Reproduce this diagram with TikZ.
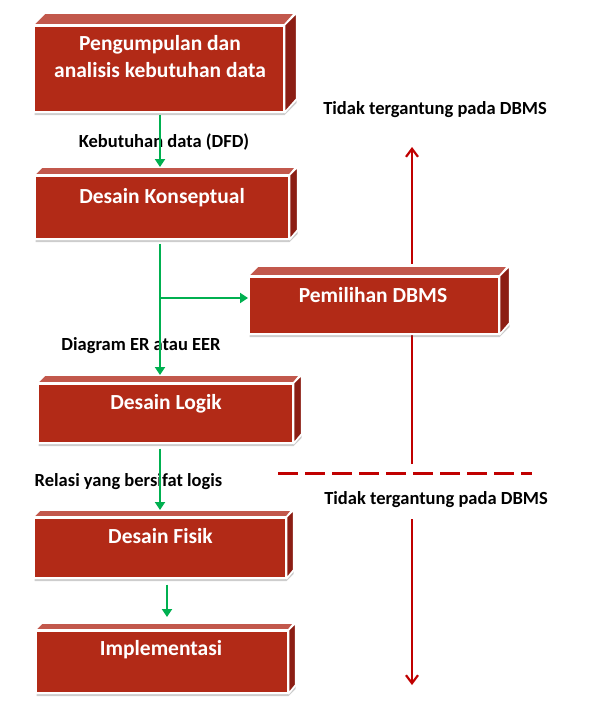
\documentclass[tikz,border=0pt]{standalone}
\usepackage{fontspec}
\setmainfont{Carlito}
\usetikzlibrary{arrows.meta,shadows}
\definecolor{frontred}{RGB}{178,42,23}
\definecolor{topred}{RGB}{194,88,76}
\definecolor{sidered}{RGB}{140,30,20}
\definecolor{flowgreen}{RGB}{0,176,80}
\definecolor{linered}{RGB}{192,0,0}
\tikzset{
  cubeback/.style={fill=white, draw=white, line width=4pt, line join=round,
    drop shadow={shadow xshift=1.5pt, shadow yshift=-4pt, opacity=.28, fill=black!70}},
  frontface/.style={fill=frontred, draw=white, line width=1.6pt, inner sep=0pt},
  topface/.style={fill=topred, draw=white, line width=1.6pt, line join=round},
  sideface/.style={fill=sidered, draw=white, line width=1.6pt, line join=round},
  boxtext/.style={text=white, font=\fontsize{21.5}{27}\selectfont\bfseries, align=center, inner sep=0pt},
  lbl/.style={text=black, font=\fontsize{18.5}{22}\selectfont\bfseries, inner sep=0pt, text height=11.9pt, text depth=0pt},
  garrow/.style={draw=flowgreen, line width=2.8pt, -{Triangle[length=8pt,width=10pt]}},
  rarrow/.style={draw=linered, line width=2.6pt, -{Straight Barb[length=8pt,width=12pt,line width=2.2pt]}},
  rdash/.style={draw=linered, line width=3pt, dash pattern=on 20pt off 7pt}
}
% #1 name, #2 x1, #3 y1, #4 x2, #5 y2, #6 depth
\newcommand\cubebox[6]{%
  \path[cubeback] (#2,#3) -- (#2+#6,#3-#6) -- (#4+#6,#3-#6) -- (#4+#6,#5-#6) -- (#4,#5) -- (#2,#5) -- cycle;
  \node[frontface, minimum width={#4-#2}, minimum height={#5-#3}, anchor=north west] (#1) at (#2,#3) {};
  \path[topface] (#1.north west) -- ++(#6,-#6) -- ++({#4-#2},0) -- (#1.north east) -- cycle;
  \path[sideface] (#1.north east) -- ++(#6,-#6) -- ++(0,{#5-#3}) -- (#1.south east) -- cycle;
  \coordinate (#1top) at ({(#2+#4)/2},{#3-#6});
}
\begin{document}
\begin{tikzpicture}[x=1pt,y=-1pt]
\useasboundingbox (0,0) rectangle (603,712);

% red lines (behind the boxes)
\coordinate (ru1) at (412,147);
\coordinate (rd1) at (412,464);
\coordinate (ru2) at (412,519);
\coordinate (rd2) at (412,685);
\coordinate (dl) at (278,473);
\coordinate (dr) at (532,473);
\draw[rarrow] (rd1) -- (ru1);
\draw[rarrow] (ru2) -- (rd2);
\draw[rdash] (dl) -- (dr);

% boxes
\cubebox{b1}{33}{25}{283}{111}{12}
\cubebox{b2}{34}{175}{288}{238}{8}
\cubebox{b3}{248}{276}{498}{333}{10}
\cubebox{b4}{37}{383}{292}{442}{8}
\cubebox{b5}{33}{517}{285}{577}{7}
\cubebox{b6}{35}{630}{287}{692}{7}

\node[boxtext] (b1t) at (160,57) {Pengumpulan dan\\analisis kebutuhan data};
\node[boxtext, text height=13.8pt, text depth=0pt] (b2t) at (162,196.5) {Desain Konseptual};
\node[boxtext, text height=13.8pt, text depth=0pt] (b3t) at (373,296) {Pemilihan DBMS};
\node[boxtext, text height=13.8pt, text depth=0pt] (b4t) at (166,403) {Desain Logik};
\node[boxtext, text height=13.8pt, text depth=0pt] (b5t) at (160.5,537) {Desain Fisik};
\node[boxtext, text height=13.8pt, text depth=0pt] (b6t) at (161,649) {Implementasi};

% labels
\node[lbl] (l1) at (164,142) {Kebutuhan data (DFD)};
\node[lbl] (l2) at (141,345) {Diagram ER atau EER};
\node[lbl] (l3) at (128.5,481) {Relasi yang bersifat logis};
\node[lbl] (l4) at (435,109) {Tidak tergantung pada DBMS};
\node[lbl] (l5) at (436,499) {Tidak tergantung pada DBMS};

% green flow arrows
\coordinate (gx) at (160,0);
\coordinate (gx2) at (167,0);
\coordinate (br) at (160,298);
\draw[garrow] ([yshift=-2pt]b1.south -| gx) -- (b2top -| gx);
\draw[garrow] ([yshift=-4pt]b2.south -| gx) -- (b4top -| gx);
\draw[garrow] (br) -- (br -| b3.west);
\draw[garrow] ([yshift=-5pt]b4.south -| gx) -- (b5top -| gx);
\draw[garrow] ([yshift=-6pt]b5.south -| gx2) -- ([yshift=6pt]b6top -| gx2);
\end{tikzpicture}
\end{document}
